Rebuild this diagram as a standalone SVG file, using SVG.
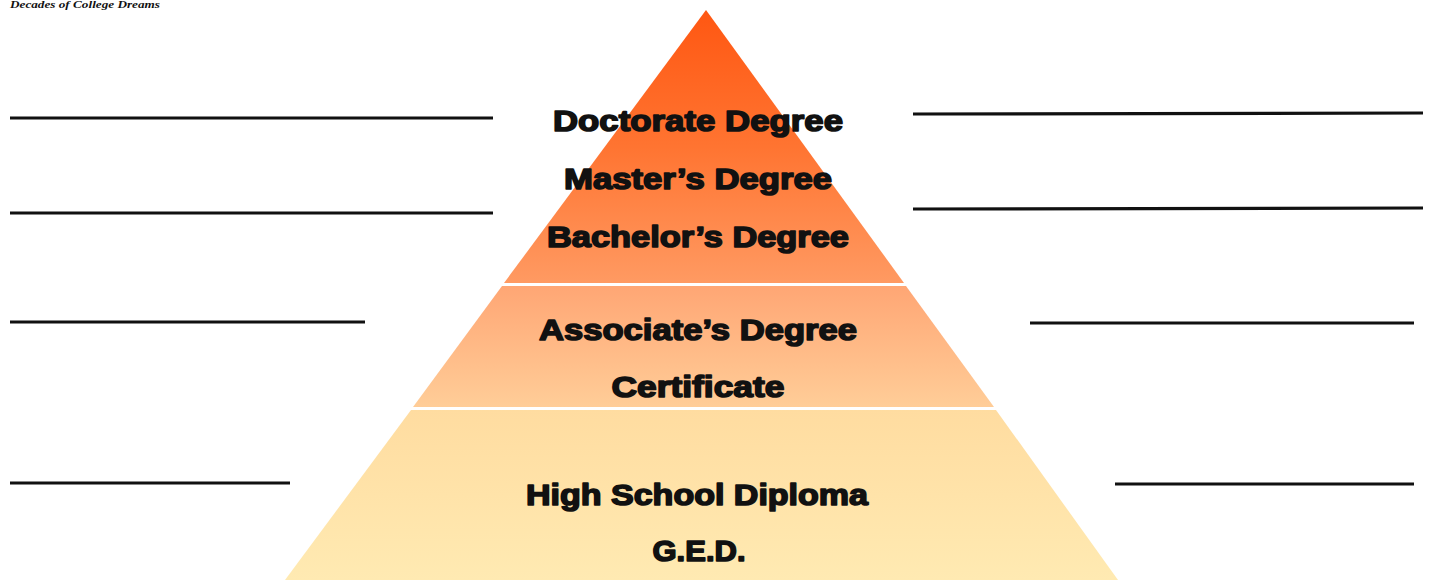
<svg xmlns="http://www.w3.org/2000/svg" width="1429" height="585" viewBox="0 0 1429 585">
<style>
.lbl{font-family:"Liberation Sans",Arial,sans-serif;font-weight:bold;font-size:30px;fill:#111;stroke:#111;stroke-width:1.6;stroke-linejoin:round;text-anchor:middle}
.ln{stroke:#111;stroke-width:3.2;fill:none}
.ttl{font-family:"Liberation Serif","Times New Roman",serif;font-weight:bold;font-style:italic;font-size:11px;fill:#111}
</style>
<defs>
<linearGradient id="gTop" x1="0" y1="10" x2="0" y2="283" gradientUnits="userSpaceOnUse">
<stop offset="0" stop-color="#FF5712"/>
<stop offset="0.5" stop-color="#FF7431"/>
<stop offset="1" stop-color="#FF9A62"/>
</linearGradient>
<linearGradient id="gMid" x1="0" y1="286" x2="0" y2="407" gradientUnits="userSpaceOnUse">
<stop offset="0" stop-color="#FFA674"/>
<stop offset="1" stop-color="#FFCD98"/>
</linearGradient>
<linearGradient id="gBot" x1="0" y1="410" x2="0" y2="580" gradientUnits="userSpaceOnUse">
<stop offset="0" stop-color="#FFDCA0"/>
<stop offset="1" stop-color="#FFEAB2"/>
</linearGradient>
</defs>
<rect width="1429" height="585" fill="#fff"/>
<text class="ttl" x="10" y="8" textLength="150" lengthAdjust="spacingAndGlyphs">Decades of College Dreams</text>
<g id="tier-top">
<polygon points="706,10 904,283 504,283" fill="url(#gTop)"/>
<text class="lbl" x="698" y="131" textLength="290" lengthAdjust="spacingAndGlyphs">Doctorate Degree</text>
<text class="lbl" x="698" y="189" textLength="268" lengthAdjust="spacingAndGlyphs">Master’s Degree</text>
<text class="lbl" x="698" y="247" textLength="302" lengthAdjust="spacingAndGlyphs">Bachelor’s Degree</text>
</g>
<g id="tier-middle">
<polygon points="502,286 906,286 994,407 413,407" fill="url(#gMid)"/>
<text class="lbl" x="698" y="340" textLength="318" lengthAdjust="spacingAndGlyphs">Associate’s Degree</text>
<text class="lbl" x="698" y="397" textLength="173" lengthAdjust="spacingAndGlyphs">Certificate</text>
</g>
<g id="tier-bottom">
<polygon points="411,410 996,410 1118,580 285,580" fill="url(#gBot)"/>
<text class="lbl" x="697" y="505" textLength="342" lengthAdjust="spacingAndGlyphs">High School Diploma</text>
<text class="lbl" x="699" y="561" textLength="93" lengthAdjust="spacingAndGlyphs">G.E.D.</text>
</g>
<g id="connectors">
<line class="ln" x1="10" y1="118" x2="493" y2="118"/>
<line class="ln" x1="10" y1="213" x2="493" y2="213"/>
<line class="ln" x1="10" y1="322" x2="365" y2="322"/>
<line class="ln" x1="10" y1="483" x2="290" y2="483"/>
<line class="ln" x1="913" y1="114" x2="1423" y2="113"/>
<line class="ln" x1="913" y1="209" x2="1423" y2="208"/>
<line class="ln" x1="1030" y1="323" x2="1414" y2="323"/>
<line class="ln" x1="1115" y1="484" x2="1414" y2="484"/>
</g>
</svg>
